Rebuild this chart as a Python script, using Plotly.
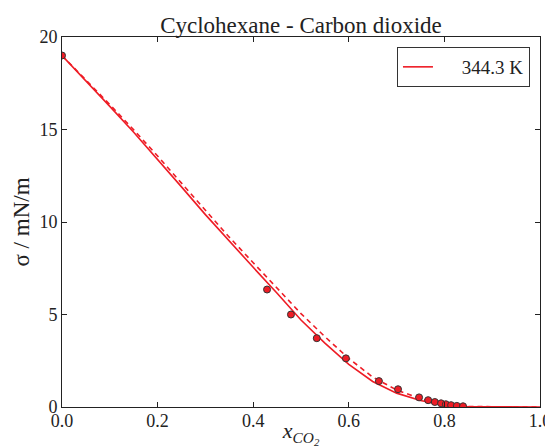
import plotly.graph_objects as go

# model curves
x_model = [0.0, 0.05, 0.1, 0.15, 0.2, 0.25, 0.3, 0.35, 0.4, 0.45, 0.5,
           0.55, 0.6, 0.65, 0.7, 0.75, 0.8, 0.85, 0.9, 0.95, 1.0]
sigma_solid = [19.0, 17.65, 16.25, 14.85, 13.4, 11.9, 10.4, 8.95, 7.55, 6.15, 4.7,
               3.45, 2.3, 1.38, 0.75, 0.35, 0.1, 0.01, 0.0, 0.0, 0.0]
sigma_dashed = [19.0, 17.7, 16.35, 14.98, 13.57, 12.1, 10.62, 9.18, 7.8, 6.42, 5.05,
                3.8, 2.62, 1.62, 0.92, 0.45, 0.15, 0.03, 0.0, 0.0, 0.0]

# experimental points
x_exp = [0.0, 0.429, 0.479, 0.533, 0.594, 0.663, 0.703, 0.747, 0.766, 0.780,
         0.793, 0.803, 0.814, 0.826, 0.839]
sigma_exp = [19.0, 6.35, 5.0, 3.72, 2.63, 1.4, 0.96, 0.52, 0.37, 0.27,
             0.2, 0.15, 0.1, 0.06, 0.04]

x_ticks = [0.0, 0.2, 0.4, 0.6, 0.8, 1.0]
x_ticklabels = ["0.0", "0.2", "0.4", "0.6", "0.8", "1.0"]
y_ticks = [0, 5, 10, 15, 20]
y_ticklabels = ["0", "5", "10", "15", "20"]

RED = "#ee1c25"
FONT = "Liberation Serif"
INK = "#222222"

fig = go.Figure()
fig.add_trace(go.Scatter(x=x_model, y=sigma_solid, mode="lines",
                         line=dict(color=RED, width=1.6),
                         name="\u00a0\u00a0\u00a0\u00a0\u00a0344.3 K"))
fig.add_trace(go.Scatter(x=x_model, y=sigma_dashed, mode="lines",
                         line=dict(color=RED, width=1.6, dash="5px,4px"), showlegend=False))
fig.add_trace(go.Scatter(x=x_exp, y=sigma_exp, mode="markers",
                         marker=dict(color=RED, size=7, line=dict(color="#333333", width=1)),
                         showlegend=False))

axis_common = dict(showline=True, linecolor=INK, linewidth=1, mirror="ticks",
                   ticks="inside", ticklen=5, tickcolor=INK, showgrid=False,
                   zeroline=False, automargin=False,
                   tickfont=dict(family=FONT, size=18, color=INK))

# page body has an 8px margin, so the figure is sized/offset to compensate
fig.update_layout(
    width=545, height=440,
    margin=dict(l=54, r=13, t=29, b=41),
    paper_bgcolor="white", plot_bgcolor="white",
    font=dict(family=FONT, color=INK),
    title=dict(text="Cyclohexane - Carbon dioxide", x=0.5, xref="paper",
               y=0.961, yref="container", yanchor="middle",
               font=dict(family=FONT, size=23, color=INK)),
    xaxis=dict(range=[0, 1], tickvals=x_ticks, ticktext=x_ticklabels,
               ticklabelstandoff=-3,
               title=dict(text="<i>x<sub>CO<sub>2</sub></sub></i>", standoff=0,
                          font=dict(family=FONT, size=22)),
               **axis_common),
    yaxis=dict(range=[0, 20], tickvals=y_ticks, ticktext=y_ticklabels,
               title=dict(text="σ / mN/m", standoff=3, font=dict(family=FONT, size=23)),
               **axis_common),
    legend=dict(x=0.979, y=0.973, xanchor="right", yanchor="top",
                bordercolor="#333333", borderwidth=1, bgcolor="white",
                itemwidth=30,
                font=dict(family=FONT, size=19, color=INK)),
)

fig.write_html("out.html")
